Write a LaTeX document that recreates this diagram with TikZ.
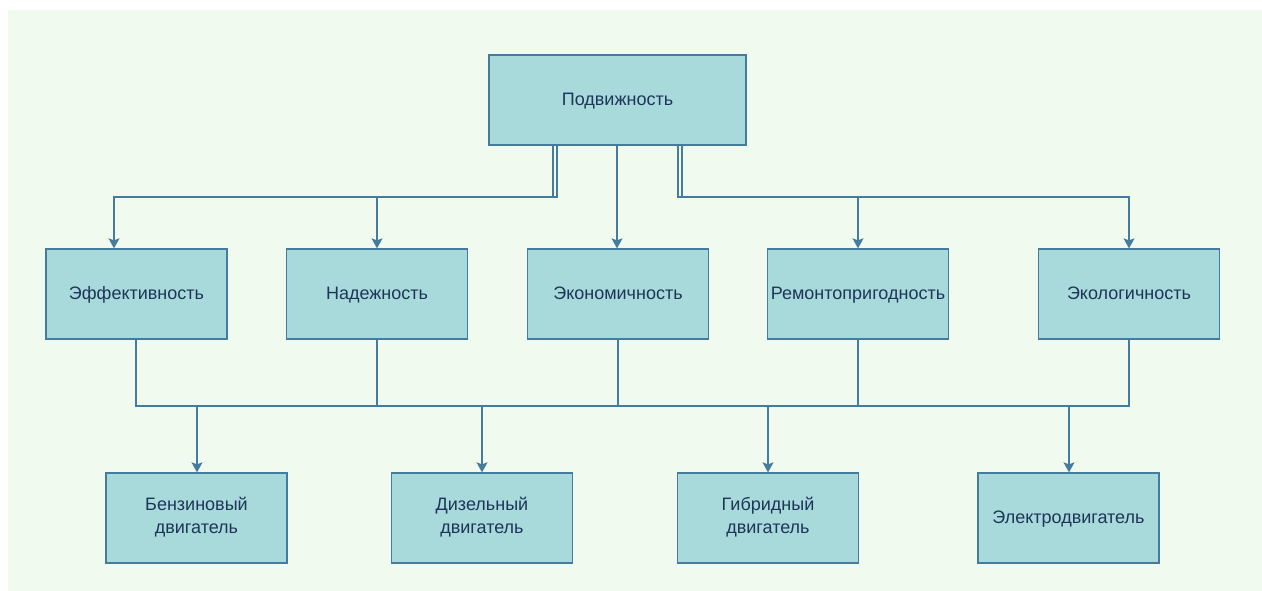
\documentclass[tikz,border=0pt]{standalone}
\usepackage{fontspec}
\setmainfont{Liberation Sans}
\usetikzlibrary{arrows.meta}
\definecolor{bgc}{HTML}{F1FAEE}
\definecolor{boxfill}{HTML}{A8DADC}
\definecolor{boxline}{HTML}{457B9D}
\definecolor{txt}{HTML}{1D3557}
\newcommand\bxstrut{\rule[-5.5pt]{0pt}{22pt}}
\begin{document}
\begin{tikzpicture}[x=1pt,y=-1pt,
  box/.style={draw=boxline,fill=boxfill,line width=1.3pt,minimum width=181pt,minimum height=90pt,
    inner sep=0pt,align=center,text=txt,font=\fontsize{18}{22.3}\selectfont,
    execute at begin node=\bxstrut,execute at end node=\bxstrut},
  conn/.style={draw=boxline,line width=1.3pt},
  arr/.style={conn,-{Stealth[inset=2pt,width=11pt,length=10pt]}}]
\useasboundingbox (0,0) rectangle (1262,591);
\fill[white] (0,0) rectangle (1262,591);
\fill[bgc] (8,10) rectangle (1262,591);
% top
\node[box,minimum width=257pt] (top) at (617.5,100) {Подвижность};
% middle
\node[box] (m1) at (136.5,294) {Эффективность};
\node[box] (m2) at (377,294) {Надежность};
\node[box] (m3) at (618,294) {Экономичность};
\node[box] (m4) at (858,294) {Ремонтопригодность};
\node[box] (m5) at (1129,294) {Экологичность};
% bottom
\node[box] (b1) at (196.5,518) {Бензиновый\\двигатель};
\node[box] (b2) at (482,518) {Дизельный\\двигатель};
\node[box] (b3) at (768,518) {Гибридный\\двигатель};
\node[box] (b4) at (1068.5,518) {Электродвигатель};
% top connectors
\draw[arr] (top.south -| 553,0) |- (114,197) -- (m1.north -| 114,0);
\draw[arr] (top.south -| 557,0) |- (377,197) -- (m2.north);
\draw[arr] (top.south -| 617,0) -- (m3.north -| 617,0);
\draw[arr] (top.south -| 678,0) |- (858,197) -- (m4.north);
\draw[arr] (top.south -| 682,0) |- (1129,197) -- (m5.north);
% bottom bus
\coordinate (busL) at (136,406);
\coordinate (busR) at (1129,406);
\draw[conn] (m1.south -| busL) -- (busL) -- (busR) -- (m5.south);
\draw[conn] (m2.south) -- (m2.south |- busL);
\draw[conn] (m3.south) -- (m3.south |- busL);
\draw[conn] (m4.south) -- (m4.south |- busL);
\draw[arr] (197,406) -- (b1.north -| 197,0);
\draw[arr] (b2.north |- busL) -- (b2.north);
\draw[arr] (b3.north |- busL) -- (b3.north);
\draw[arr] (1069,406) -- (b4.north -| 1069,0);
\end{tikzpicture}
\end{document}
